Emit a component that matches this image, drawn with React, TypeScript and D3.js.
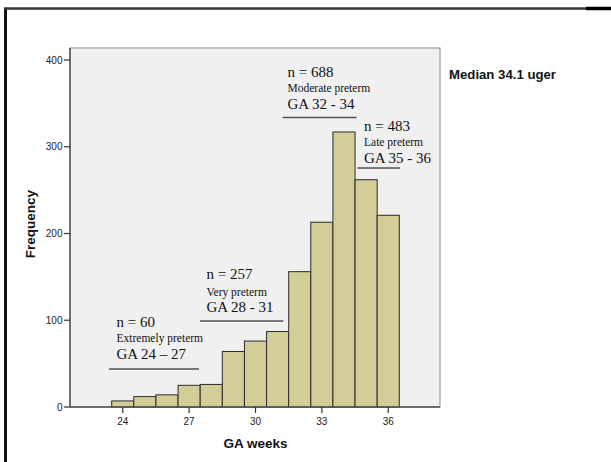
import React from "react";
import * as d3 from "d3";

const weeks = [24, 25, 26, 27, 28, 29, 30, 31, 32, 33, 34, 35, 36];
const frequencies = [7, 12, 14, 25, 26, 64, 76, 87, 156, 213, 317, 262, 221];
const xTicks = [24, 27, 30, 33, 36];
const yTicks = [0, 100, 200, 300, 400];
const groupCounts = ["n = 60", "n = 257", "n = 688", "n = 483"];
const groupNames = ["Extremely preterm", "Very preterm", "Moderate preterm", "Late preterm"];
const groupRanges = ["GA 24 – 27", "GA 28 - 31", "GA 32 - 34", "GA 35 - 36"];
const medianLabel = "Median 34.1 uger";
const xTitle = "GA weeks";
const yTitle = "Frequency";

export default function App() {
  const W = 611, H = 462;
  const plotLeft = 70, plotRight = 440, plotTop = 48;
  const x = d3.scaleLinear().domain([23.5, 36.5]).range([111.7, 399.3]);
  const y = d3.scaleLinear().domain([0, 400]).range([407, 60]);
  const bw = x(24.5) - x(23.5);
  const base = y(0);

  // layout of the annotation blocks: [textX, nBaseline, nameBaseline, rangeBaseline, lineY, lineX1, lineX2]
  const ann = [
    [116.5, 326.5, 341.5, 359, 369, 109, 199],
    [206.5, 279, 295.5, 311.5, 321, 200, 283.5],
    [287.5, 77, 91.5, 108.5, 117.5, 282.5, 356.5],
    [364, 130.5, 145.5, 163, 168, 357.5, 400],
  ];
  const serif = "'Liberation Serif', 'Times New Roman', serif";
  const sans = "'Liberation Sans', Arial, sans-serif";

  return (
    <svg width={W} height={H} style={{ position: "absolute", left: 0, top: 0 }}>
      <rect x={0} y={0} width={W} height={H} fill="#ffffff" />
      {/* outer frame */}
      <line x1={5.5} y1={8} x2={5.5} y2={H} stroke="#111" strokeWidth={3} />
      <line x1={4} y1={8.5} x2={W} y2={8.5} stroke="#333" strokeWidth={2.5} />
      <line x1={586} y1={8.5} x2={W} y2={8.5} stroke="#000" strokeWidth={3.5} />
      {/* plot area */}
      <rect x={plotLeft} y={plotTop} width={plotRight - plotLeft} height={base - plotTop}
        fill="#f0f0f0" stroke="#8a8a8a" strokeWidth={1} />
      {/* bars */}
      {weeks.map((w, i) => (
        <rect key={w} x={x(w - 0.5)} y={y(frequencies[i])} width={bw}
          height={base - y(frequencies[i])} fill="#d3ce98" stroke="#2b2b2b" strokeWidth={1} />
      ))}
      {/* axes */}
      <line x1={plotLeft} y1={plotTop} x2={plotLeft} y2={base} stroke="#555" strokeWidth={1.5} />
      <line x1={plotLeft} y1={base} x2={plotRight} y2={base} stroke="#555" strokeWidth={1.5} />
      {yTicks.map((t) => (
        <g key={t}>
          <line x1={plotLeft - 6} x2={plotLeft} y1={y(t)} y2={y(t)} stroke="#333" strokeWidth={1.2} />
          <text x={plotLeft - 7.5} y={y(t) + 3.5} textAnchor="end" fontFamily={sans} fontSize={10} fill="#222">{t}</text>
        </g>
      ))}
      {xTicks.map((t) => (
        <g key={t}>
          <line x1={x(t)} x2={x(t)} y1={base} y2={base + 6} stroke="#333" strokeWidth={1.2} />
          <text x={x(t)} y={base + 18} textAnchor="middle" fontFamily={sans} fontSize={10} fill="#222">{t}</text>
        </g>
      ))}
      <text x={255.5} y={448} textAnchor="middle" fontFamily={sans} fontWeight="bold" fontSize={13.5} fill="#111">{xTitle}</text>
      <text transform={`translate(35,224) rotate(-90)`} textAnchor="middle" fontFamily={sans} fontWeight="bold" fontSize={13.5} fill="#111">{yTitle}</text>
      <text x={449} y={78.5} fontFamily={sans} fontWeight="bold" fontSize={13.2} fill="#111">{medianLabel}</text>
      {/* annotations */}
      {ann.map((a, i) => (
        <g key={i}>
          <text x={a[0]} y={a[1]} fontFamily={serif} fontSize={15} fill="#111">{groupCounts[i]}</text>
          <text x={a[0]} y={a[2]} fontFamily={serif} fontSize={11.5} fill="#111">{groupNames[i]}</text>
          <text x={a[0]} y={a[3]} fontFamily={serif} fontSize={15} fill="#111">{groupRanges[i]}</text>
          <line x1={a[5]} x2={a[6]} y1={a[4]} y2={a[4]} stroke="#555" strokeWidth={1.5} />
        </g>
      ))}
    </svg>
  );
}
